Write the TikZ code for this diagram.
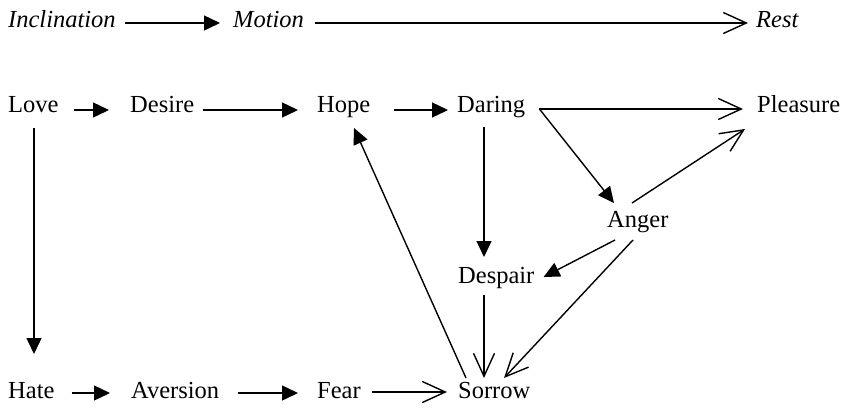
\documentclass[tikz,border=0pt]{standalone}
\usepackage{fontspec}
\setmainfont{Liberation Serif}
\usetikzlibrary{arrows.meta,calc}
\begin{document}
\begin{tikzpicture}[x=1pt,y=-1pt,
  lbl/.style={anchor=base west,inner sep=0pt,font=\fontsize{24.5}{28}\selectfont},
  ilbl/.style={anchor=base west,inner sep=0pt,font=\fontsize{24.5}{28}\selectfont\itshape},
  conn/.style={line width=1.4pt},
  fa/.style={conn,-{Triangle[length=16pt,width=15pt]}},
  oa/.style={conn,-{Straight Barb[length=23pt,width=21pt]}}]
\useasboundingbox (0,0) rectangle (846,408);
% top row
\node[ilbl] (incl) at (8,27) {Inclination};
\node[ilbl] (motion) at (233,27) {Motion};
\node[ilbl] (rest) at (756,27) {Rest};
% second row
\node[lbl] (love) at (8,112) {Love};
\node[lbl] (desire) at (130,112) {Desire};
\node[lbl] (hope) at (317,112) {Hope};
\node[lbl] (daring) at (457,112) {Daring};
\node[lbl] (pleasure) at (757,112) {Pleasure};
% middle
\node[lbl] (anger) at (607,227) {Anger};
\node[lbl] (despair) at (458,283) {Despair};
% bottom row
\node[lbl] (hate) at (8,398) {Hate};
\node[lbl] (aversion) at (131,398) {Aversion};
\node[lbl] (fear) at (317,398) {Fear};
\node[lbl] (sorrow) at (458,398) {Sorrow};
% connectors
\draw[fa] ($(incl.base east)+(9,-4)$) -- ($(motion.base west)+(-13,-4)$);
\draw[oa] ($(motion.base east)+(11,-4)$) -- ($(rest.base west)+(-8,-4)$);
\draw[fa] ($(love.base east)+(15,-2)$) -- ($(desire.base west)+(-21,-2)$);
\draw[fa] ($(desire.base east)+(9,-2)$) -- ($(hope.base west)+(-19,-2)$);
\draw[fa] ($(hope.base east)+(24,-2)$) -- ($(daring.base west)+(-9,-2)$);
\draw[oa] ($(daring.base east)+(14,-3)$) -- ($(pleasure.base west)+(-14,-3)$);
\draw[fa] ($(daring.base east)+(14,-3)$) -- ($(anger.base west)+(7,-24)$);
\draw[fa] ($(daring.base west)+(27,15)$) -- ($(despair.base west)+(26,-26)$);
\draw[fa] ($(love.base west)+(26,16)$) -- ($(hate.base west)+(26,-44)$);
\draw[oa] ($(anger.base west)+(25,-24)$) -- ($(pleasure.base west)+(-12,17)$);
\draw[fa] ($(anger.base west)+(8,13)$) -- ($(despair.base east)+(9,-6)$);
\draw[oa] ($(anger.base west)+(26,13)$) -- ($(sorrow.base west)+(46,-20)$);
\draw[oa] ($(despair.base west)+(26,12)$) -- ($(sorrow.base west)+(26,-20)$);
\draw[fa] ($(sorrow.base west)+(8,-20)$) -- ($(hope.base west)+(37,16)$);
\draw[fa] ($(hate.base east)+(17,-5)$) -- ($(aversion.base west)+(-21,-5)$);
\draw[fa] ($(aversion.base east)+(19,-5)$) -- ($(fear.base west)+(-19,-5)$);
\draw[oa] ($(fear.base east)+(11,-6)$) -- ($(sorrow.base west)+(-11,-6)$);
\end{tikzpicture}
\end{document}
